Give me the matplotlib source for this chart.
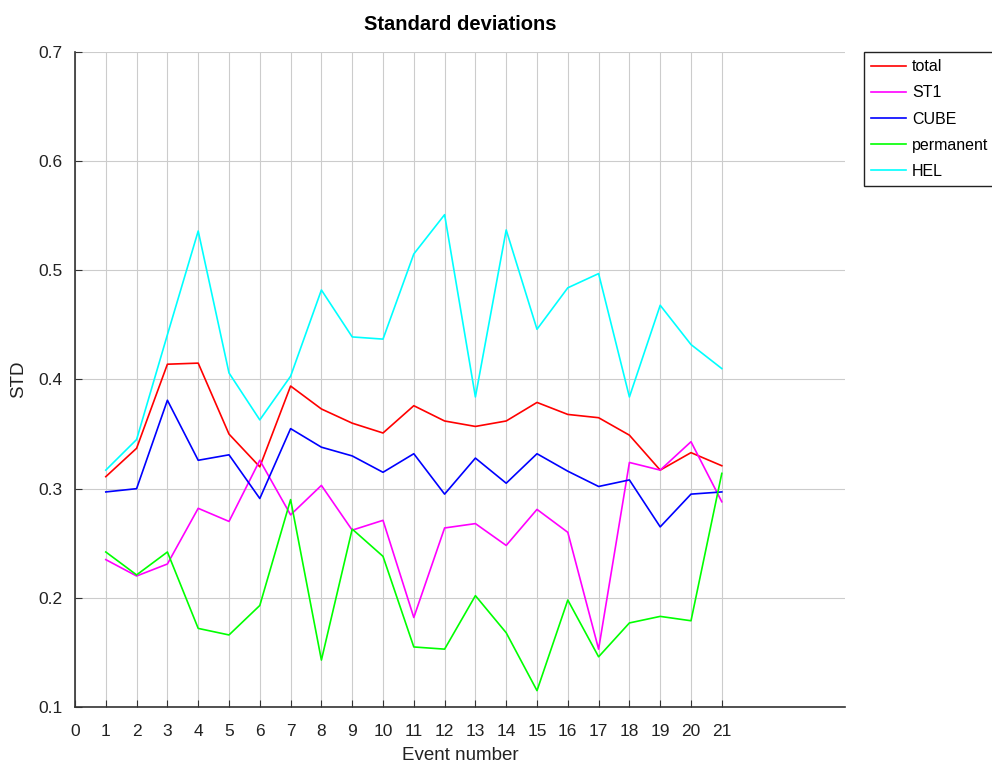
import matplotlib
matplotlib.use("Agg")
import matplotlib.pyplot as plt
import numpy as np

plt.rcParams['font.family'] = ['Liberation Sans', 'DejaVu Sans']

events = list(range(1, 22))
total = [0.311, 0.337, 0.414, 0.415, 0.350, 0.320, 0.394, 0.373, 0.360, 0.351,
         0.376, 0.362, 0.357, 0.362, 0.379, 0.368, 0.365, 0.349, 0.317, 0.333, 0.321]
st1 = [0.235, 0.220, 0.231, 0.282, 0.270, 0.326, 0.276, 0.303, 0.262, 0.271,
       0.182, 0.264, 0.268, 0.248, 0.281, 0.260, 0.153, 0.324, 0.317, 0.343, 0.288]
cube = [0.297, 0.300, 0.381, 0.326, 0.331, 0.291, 0.355, 0.338, 0.330, 0.315,
        0.332, 0.295, 0.328, 0.305, 0.332, 0.316, 0.302, 0.308, 0.265, 0.295, 0.297]
permanent = [0.242, 0.221, 0.242, 0.172, 0.166, 0.193, 0.290, 0.143, 0.263, 0.238,
             0.155, 0.153, 0.202, 0.168, 0.115, 0.198, 0.146, 0.177, 0.183, 0.179, 0.314]
hel = [0.317, 0.345, 0.441, 0.536, 0.406, 0.363, 0.403, 0.482, 0.439, 0.437,
       0.515, 0.551, 0.384, 0.537, 0.446, 0.484, 0.497, 0.384, 0.468, 0.432, 0.410]

series = [("total", total, "#ff0000"), ("ST1", st1, "#ff00ff"), ("CUBE", cube, "#0000ff"),
          ("permanent", permanent, "#00ff00"), ("HEL", hel, "#00ffff")]

xticks = list(range(0, 22))
yticks = [0.1, 0.2, 0.3, 0.4, 0.5, 0.6, 0.7]

fig = plt.figure(figsize=(9.92, 7.67), dpi=100)
ax = fig.add_axes([75/992, 1-707/767, 770/992, 655/767])

for name, vals, col in series:
    ax.plot(events, vals, color=col, lw=1.2, label=name)

ax.set_xlim(0, 25)
ax.set_ylim(0.1, 0.7)
ax.set_xticks(xticks)
ax.set_yticks(yticks)
ax.set_yticklabels([f"{v:.1f}" for v in yticks])
ax.grid(True, color='#cccccc', lw=0.8)
ax.set_axisbelow(True)
for s in ['top', 'right']:
    ax.spines[s].set_visible(False)
for s in ['left', 'bottom']:
    ax.spines[s].set_color('#333333')
    ax.spines[s].set_linewidth(1.2)
ax.tick_params(direction='in', length=5, labelsize=12.5, colors='#333333', labelcolor='#222222')
ax.tick_params(axis='x', pad=12)
ax.tick_params(axis='y', pad=9)
ax.set_xlabel("Event number", fontsize=13.5, color='#222222', labelpad=6)
ax.set_ylabel("STD", fontsize=13.5, color='#222222', labelpad=8)
ax.set_title("Standard deviations", fontsize=14.5, fontweight='bold', pad=16)

leg = ax.legend(loc='upper left', bbox_to_anchor=(789/770, 1.0), fancybox=False,
                edgecolor='#222222', framealpha=1, fontsize=11.5, handlelength=2.2,
                handletextpad=0.35, borderpad=0.45,
                borderaxespad=0, labelspacing=0.7)
leg.get_frame().set_linewidth(1.0)

fig.savefig("out.png", dpi=100)
